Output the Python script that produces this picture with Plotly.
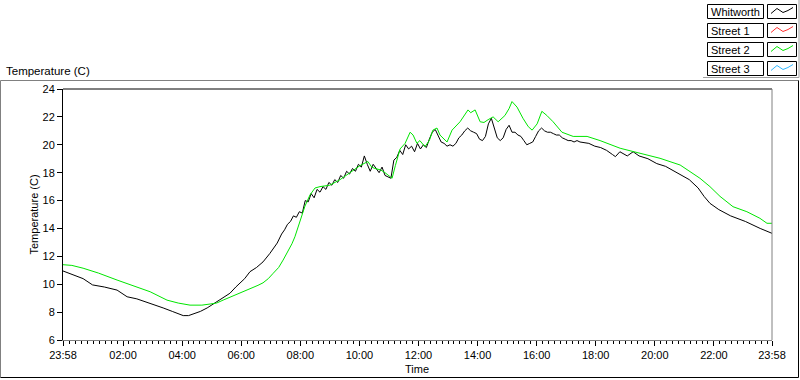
import plotly.graph_objects as go

# ---------------- data ----------------
series_names = ["Whitworth", "Street 1", "Street 2", "Street 3"]
series_colors = ["#000000", "#ff3030", "#00e600", "#30b8ff"]

# hours after 23:58 (0 .. 24)
whitworth_h = [0.0, 0.3, 0.68, 1.0, 1.4, 1.83, 2.17, 2.5, 2.95, 3.39, 3.7, 4.07, 4.25, 4.4, 4.65, 4.88,
               5.21, 5.45, 5.65, 5.85, 5.99, 6.15, 6.33, 6.55, 6.77, 7.0, 7.25,
               7.4, 7.5, 7.6, 7.7, 7.8, 7.9, 8.0, 8.1, 8.2, 8.3, 8.4, 8.5, 8.6, 8.7, 8.8, 8.9,
               9.0, 9.1, 9.2, 9.3, 9.4, 9.5, 9.6, 9.7, 9.8, 9.9, 10.0, 10.1, 10.2, 10.3, 10.4,
               10.5, 10.6, 10.7, 10.8, 10.9, 11.0, 11.1, 11.2, 11.3, 11.4, 11.5, 11.6, 11.7,
               11.8, 11.9, 12.0, 12.1, 12.2, 12.3, 12.4, 12.5, 12.6, 12.7, 12.8, 12.9, 13.0,
               13.1, 13.2, 13.3, 13.4, 13.5, 13.6, 13.7, 13.8, 13.9, 14.0, 14.1, 14.2, 14.3,
               14.4, 14.5, 14.6, 14.7, 14.8, 14.9, 15.0, 15.1, 15.2, 15.3, 15.4, 15.5, 15.6,
               15.7, 15.8, 15.9, 16.0, 16.1, 16.2, 16.3, 16.4, 16.5, 16.6, 16.7, 16.8, 16.9,
               17.0, 17.1, 17.2, 17.3, 17.4, 17.5,
               17.8, 18.0, 18.2, 18.4, 18.6, 18.7, 18.85, 19.0, 19.1, 19.3, 19.5, 19.8, 20.1,
               20.4, 20.8, 21.2, 21.5, 21.7, 21.9, 22.2, 22.6, 23.1, 23.6, 24.0]
whitworth_t = [10.95, 10.7, 10.4, 9.95, 9.8, 9.58, 9.1, 8.95, 8.65, 8.3, 8.05, 7.75, 7.75, 7.85, 8.05, 8.3,
               8.75, 9.05, 9.35, 9.8, 10.05, 10.4, 10.9, 11.2, 11.6, 12.2, 12.95,
               13.6, 13.9, 14.3, 14.5, 14.9, 14.8, 15.2, 15.1, 16.0, 15.9, 16.5, 16.2, 16.8, 16.6, 17.0, 16.8,
               17.3, 17.1, 17.5, 17.3, 17.8, 17.6, 18.1, 17.9, 18.3, 18.1, 18.6, 18.4, 19.2, 18.6, 18.1,
               18.6, 18.3, 18.0, 18.4, 17.8, 17.7, 17.6, 18.9, 19.1, 19.6, 19.3, 20.0, 19.7,
               19.9, 19.5, 20.1, 19.7, 20.0, 19.8, 20.4, 20.9, 21.1, 20.6, 20.2, 20.1, 19.9,
               20.0, 19.9, 20.1, 20.5, 20.7, 21.0, 21.2, 21.0, 20.9, 20.8, 20.4, 20.3, 20.6,
               21.5, 21.9, 21.2, 20.5, 20.3, 20.5, 21.1, 21.4, 20.9, 20.9, 20.7, 20.6, 20.3,
               20.0, 20.1, 20.2, 20.6, 21.0, 21.2, 21.0, 20.9, 20.9, 20.8, 20.7, 20.7, 20.5,
               20.4, 20.3, 20.3, 20.2, 20.3, 20.2,
               20.1, 19.9, 19.8, 19.6, 19.3, 19.15, 19.5, 19.3, 19.2, 19.5, 19.2, 19.0, 18.65,
               18.45, 18.0, 17.5, 16.9, 16.3, 15.8, 15.35, 14.9, 14.5, 14.0, 13.65]

street2_h = [0.0, 0.3, 0.68, 1.2, 1.83, 2.4, 2.95, 3.52, 3.9, 4.3, 4.7, 4.98, 5.2, 5.42, 5.7, 6.0,
             6.2, 6.4, 6.6, 6.77, 6.95, 7.1, 7.3, 7.45, 7.6, 7.75, 7.85, 8.02, 8.19, 8.36, 8.53, 8.7,
             9.03, 9.38, 9.72,
             10.05, 10.32, 10.45, 10.56, 10.75, 10.9, 11.14, 11.25, 11.34, 11.41, 11.58, 11.75,
             11.85, 11.98, 12.08, 12.25, 12.4, 12.52, 12.66, 12.76, 13.0, 13.17, 13.44, 13.6,
             13.71, 13.8, 13.95, 14.12, 14.25, 14.39, 14.56, 14.73, 14.96, 15.1, 15.2, 15.37,
             15.57, 15.75, 15.88, 16.05, 16.21, 16.38, 16.59, 16.89, 17.27, 17.74, 18.18,
             18.86, 19.54, 20.21, 20.89, 21.23, 21.56, 21.9, 22.24, 22.68, 23.15, 23.59, 23.83, 24.0]
street2_t = [11.4, 11.35, 11.15, 10.8, 10.3, 9.9, 9.46, 8.86, 8.65, 8.5, 8.5, 8.58, 8.65, 8.86, 9.1, 9.36,
             9.55, 9.75, 9.92, 10.1, 10.4, 10.75, 11.2, 11.73, 12.3, 12.9, 13.4, 14.5, 15.6, 16.4, 16.9, 17.0,
             17.1, 17.5, 18.0,
             18.5, 18.8, 18.4, 18.3, 18.2, 18.0, 17.6, 18.5, 19.3, 19.7, 20.1, 20.9,
             20.7, 20.1, 20.3, 19.86, 20.3, 21.05, 21.2, 20.7, 20.2, 21.05, 21.65, 22.2,
             22.5, 22.3, 22.5, 21.65, 21.6, 21.8, 22.0, 21.65, 22.1, 22.6, 23.1, 22.7,
             21.9, 21.3, 21.05, 21.5, 22.4, 22.1, 21.65, 20.9, 20.6, 20.6, 20.3,
             19.75, 19.4, 19.03, 18.55, 18.07, 17.6, 17.0, 16.3, 15.56, 15.2, 14.73, 14.37, 14.37]

x_tick_vals = [0, 2 + 2 / 60, 4 + 2 / 60, 6 + 2 / 60, 8 + 2 / 60, 10 + 2 / 60, 12 + 2 / 60,
               14 + 2 / 60, 16 + 2 / 60, 18 + 2 / 60, 20 + 2 / 60, 22 + 2 / 60, 24]
x_tick_text = ["23:58", "02:00", "04:00", "06:00", "08:00", "10:00", "12:00",
               "14:00", "16:00", "18:00", "20:00", "22:00", "23:58"]
y_tick_vals = [6, 8, 10, 12, 14, 16, 18, 20, 22, 24]

# ---------------- layout geometry (pixels) ----------------
W, H = 800, 380
L, R, T, B = 63, 772, 89, 340
FONT = "Liberation Sans"


def px(x):
    return (x - L) / (R - L)


def py(y):
    return (B - y) / (B - T)


fig = go.Figure()
fig.add_trace(go.Scatter(x=whitworth_h, y=whitworth_t, mode="lines", name=series_names[0],
                         line=dict(color=series_colors[0], width=1)))
fig.add_trace(go.Scatter(x=street2_h, y=street2_t, mode="lines", name=series_names[2],
                         line=dict(color=series_colors[2], width=1)))

minor_vals = [2 / 60 + 0.2 * k for k in range(0, 120)]

shapes = []
# plot frame: top black, right gray
shapes.append(dict(type="line", xref="paper", yref="paper", x0=0, x1=1, y0=1, y1=1,
                   line=dict(color="black", width=1)))
shapes.append(dict(type="line", xref="paper", yref="paper", x0=1, x1=1, y0=0, y1=1,
                   line=dict(color="#808080", width=1)))
# outer panel: top/left gray, right/bottom black
shapes.append(dict(type="line", xref="paper", yref="paper", x0=px(0.5), x1=px(798.5), y0=py(80.5), y1=py(80.5),
                   line=dict(color="#808080", width=1)))
shapes.append(dict(type="line", xref="paper", yref="paper", x0=px(0.5), x1=px(0.5), y0=py(80.5), y1=py(377.5),
                   line=dict(color="#808080", width=1)))
shapes.append(dict(type="line", xref="paper", yref="paper", x0=px(798.5), x1=px(798.5), y0=py(80.5), y1=py(377.5),
                   line=dict(color="black", width=1)))
shapes.append(dict(type="line", xref="paper", yref="paper", x0=px(0.5), x1=px(798.5), y0=py(377.5), y1=py(377.5),
                   line=dict(color="black", width=1)))

annotations = []
# legend
row_top = [4.5, 23.5, 42.5, 61.5]
for i, name in enumerate(series_names):
    t0 = row_top[i]
    t1 = t0 + 14
    shapes.append(dict(type="rect", xref="paper", yref="paper", x0=px(707.5), x1=px(763.5),
                       y0=py(t1), y1=py(t0), line=dict(color="black", width=1), fillcolor="white"))
    shapes.append(dict(type="rect", xref="paper", yref="paper", x0=px(767.5), x1=px(796.5),
                       y0=py(t1), y1=py(t0), line=dict(color="black", width=1), fillcolor="white"))
    zig = [(771, t0 + 9), (777, t0 + 4), (783, t0 + 8), (788, t0 + 6), (793, t0 + 3)]
    path = "M " + " L ".join(f"{px(a):.5f},{py(b):.5f}" for a, b in zig)
    shapes.append(dict(type="path", xref="paper", yref="paper", path=path,
                       line=dict(color=series_colors[i], width=1)))
    annotations.append(dict(xref="paper", yref="paper", x=px(709), y=py(t0 + 7.5), xanchor="left",
                            yanchor="middle", text=name, showarrow=False,
                            font=dict(family=FONT, size=11, color="black")))
shapes.append(dict(type="line", xref="paper", yref="paper", x0=px(703), x1=px(799), y0=py(77.5), y1=py(77.5),
                   line=dict(color="#a0a0a0", width=1)))
shapes.append(dict(type="line", xref="paper", yref="paper", x0=px(799), x1=px(799), y0=py(0), y1=py(77.5),
                   line=dict(color="#a0a0a0", width=1)))

annotations.append(dict(xref="paper", yref="paper", x=px(4), y=py(71), xanchor="left", yanchor="middle",
                        text="Temperature (C)", showarrow=False,
                        font=dict(family=FONT, size=11.5, color="black")))
annotations.append(dict(xref="paper", yref="paper", x=px(33), y=py(214.5), xanchor="center", yanchor="middle",
                        text="Temperature (C)", textangle=-90, showarrow=False,
                        font=dict(family=FONT, size=11, color="black")))
annotations.append(dict(xref="paper", yref="paper", x=px(417), y=py(369), xanchor="center", yanchor="middle",
                        text="Time", showarrow=False,
                        font=dict(family=FONT, size=11, color="black")))

fig.update_layout(
    width=W, height=H,
    margin=dict(l=L, r=W - R, t=T, b=H - B, pad=0),
    paper_bgcolor="white", plot_bgcolor="white",
    showlegend=False,
    font=dict(family=FONT, size=11, color="black"),
    shapes=shapes, annotations=annotations,
    xaxis=dict(range=[0, 24], tickmode="array", tickvals=x_tick_vals, ticktext=x_tick_text,
               ticks="outside", ticklen=5, tickcolor="black", tickwidth=1,
               showline=True, linecolor="#808080", linewidth=1,
               showgrid=False, zeroline=False,
               minor=dict(tickmode="array", tickvals=minor_vals, ticks="outside", ticklen=3,
                          tickcolor="black", showgrid=False),
               tickfont=dict(family=FONT, size=11, color="black")),
    yaxis=dict(range=[6, 24], tickmode="array", tickvals=y_tick_vals,
               ticks="outside", ticklen=5, tickcolor="black", tickwidth=1,
               showline=True, linecolor="black", linewidth=1,
               showgrid=False, zeroline=False,
               tickfont=dict(family=FONT, size=11, color="black")),
)

fig.write_html("out.html", config={"displayModeBar": False},
               post_script="document.body.style.margin='0';document.body.style.overflow='hidden';")
